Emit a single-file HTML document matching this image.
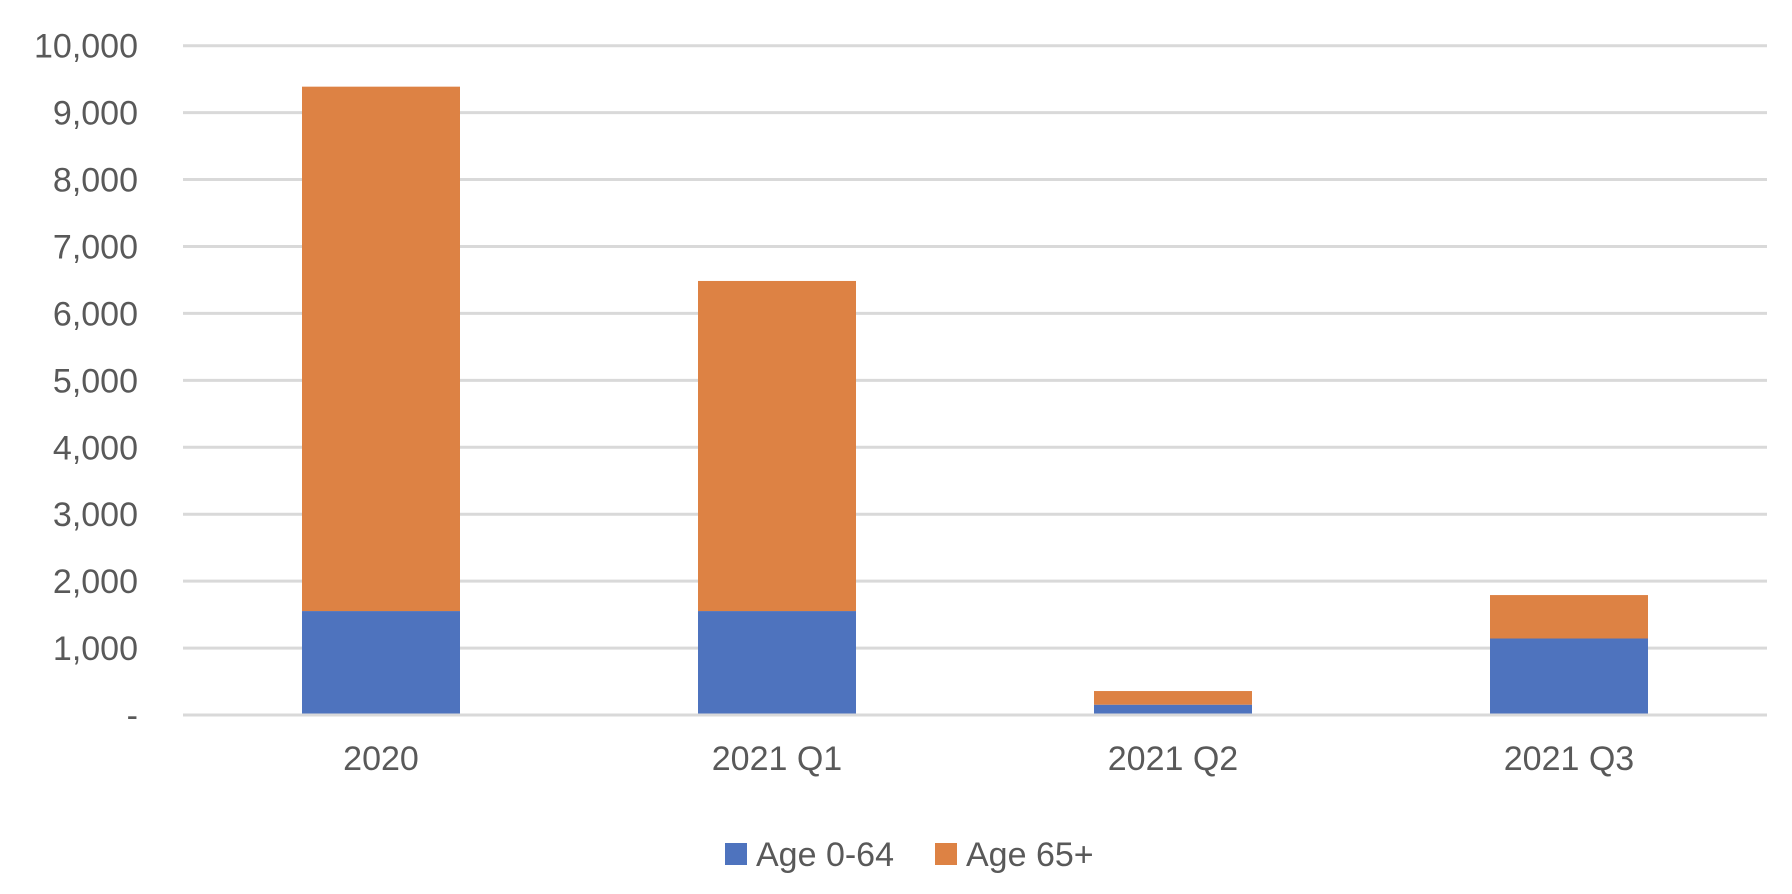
<!DOCTYPE html>
<html><head><meta charset="utf-8"><style>
html,body{margin:0;padding:0;background:#fff;}
svg{display:block;font-family:"Liberation Sans",sans-serif;}
</style></head><body>
<svg id="chart" width="1792" height="894" viewBox="0 0 1792 894" xmlns="http://www.w3.org/2000/svg">
<g id="grid"></g>
<g id="yticks"></g>
<g id="bars"></g>
<g id="xticks"></g>
<g>
  <rect x="725" y="843" width="22" height="22" fill="#4e73be"/>
  <text x="756" y="866" font-size="34" fill="#595959">Age 0-64</text>
  <rect x="935" y="843" width="22" height="22" fill="#dd8244"/>
  <text x="966" y="866" font-size="34" fill="#595959">Age 65+</text>
</g>
</svg>
<script>
const categories = ["2020", "2021 Q1", "2021 Q2", "2021 Q3"];
const age0to64 = [1553, 1553, 154, 1143];
const age65plus = [7835, 4932, 204, 649];
const yTicks = [0, 1000, 2000, 3000, 4000, 5000, 6000, 7000, 8000, 9000, 10000];
const yTickLabels = ["-", "1,000", "2,000", "3,000", "4,000", "5,000", "6,000", "7,000", "8,000", "9,000", "10,000"];

const NS = "http://www.w3.org/2000/svg";
const plotL = 183, plotR = 1767, y0 = 715, yTop = 45.7, yMax = 10000;
const band = (plotR - plotL) / categories.length;
const barW = 158;
function y(v){ return y0 - (v / yMax) * (y0 - yTop); }
function xc(i){ return plotL + band * (i + 0.5); }
function mk(tag, attrs, parent){
  const e = document.createElementNS(NS, tag);
  for (const k in attrs) e.setAttribute(k, attrs[k]);
  parent.appendChild(e);
  return e;
}
const grid = document.getElementById('grid');
const yt = document.getElementById('yticks');
yTicks.forEach((t, i) => {
  const l = mk('line', {x1: plotL, x2: plotR, y1: y(t), y2: y(t), stroke: '#d9d9d9', 'stroke-width': 3}, grid);
  
  
  const tx = mk('text', {x: 138, y: y(t) + 12, 'text-anchor': 'end', 'font-size': 34, fill: '#595959'}, yt);
  tx.textContent = yTickLabels[i];
  
  
});
const bars = document.getElementById('bars');
const xt = document.getElementById('xticks');
categories.forEach((c, i) => {
  const a = age0to64[i], b = age65plus[i];
  const r1 = mk('rect', {x: xc(i) - barW/2, y: y(a), width: barW, height: y0 - y(a) - 1.5, fill: '#4e73be'}, bars);
  
  
  const r2 = mk('rect', {x: xc(i) - barW/2, y: y(a + b), width: barW, height: y(a) - y(a + b), fill: '#dd8244'}, bars);
  
  
  const tx = mk('text', {x: xc(i), y: 770, 'text-anchor': 'middle', 'font-size': 34, fill: '#595959'}, xt);
  tx.textContent = c;
  
  
});
</script>
</body></html>
